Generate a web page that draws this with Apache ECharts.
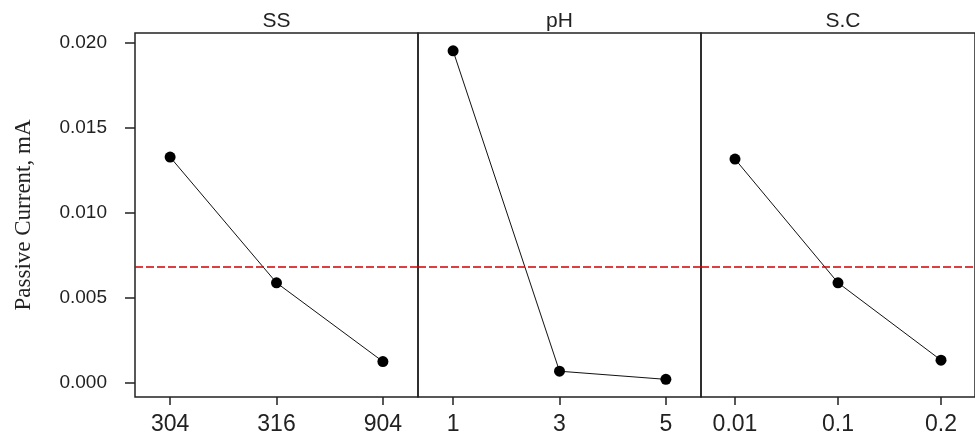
<!DOCTYPE html>
<html>
<head>
<meta charset="utf-8">
<script src="https://cdn.jsdelivr.net/npm/echarts@6/dist/echarts.min.js"></script>
<style>
  html, body { margin: 0; padding: 0; background: #fff; }
  #main { width: 975px; height: 443px; }
</style>
</head>
<body>
<div id="main"></div>
<script>
// main effects for passive current
const factors = ['SS', 'pH', 'S.C']
const levels = [
  ['304', '316', '904'],
  ['1', '3', '5'],
  ['0.01', '0.1', '0.2']
]
const ssMeans = [0.01329, 0.00588, 0.00124]
const phMeans = [0.01955, 0.00067, 0.00019]
const scMeans = [0.01317, 0.00588, 0.00132]
const grandMean = 0.0068
const yTicks = [0, 0.005, 0.010, 0.015, 0.020]

const panelMeans = [ssMeans, phMeans, scMeans]
const gridLefts = [135, 418, 701]
const gridWidths = [283, 283, 284]
const sans = 'Liberation Sans, Arial, sans-serif'

let myChart = echarts.init(document.getElementById('main'))

let grids = []
let xAxes = []
let yAxes = []
let series = []
let titles = []

factors.forEach((f, i) => {
  grids.push({
    left: gridLefts[i],
    width: gridWidths[i],
    top: 33,
    height: 364,
    show: true,
    borderColor: '#222',
    borderWidth: 1.5
  })
  xAxes.push({
    type: 'value',
    gridIndex: i,
    min: -0.33,
    max: 2.33,
    axisLine: { show: false, onZero: false },
    splitLine: { show: false },
    axisTick: {
      show: true,
      length: 8,
      customValues: [0, 1, 2],
      lineStyle: { color: '#222', width: 1.5 }
    },
    axisLabel: {
      customValues: [0, 1, 2],
      formatter: v => levels[i][Math.round(v)],
      fontSize: 23,
      fontFamily: sans,
      color: '#222',
      margin: 16
    }
  })
  yAxes.push({
    type: 'value',
    gridIndex: i,
    min: -0.00085,
    max: 0.0206,
    axisLine: { show: false, onZero: false },
    splitLine: { show: false },
    axisTick: {
      show: i === 0,
      length: 10,
      customValues: yTicks,
      lineStyle: { color: '#222', width: 1.5 }
    },
    axisLabel: {
      show: i === 0,
      customValues: yTicks,
      formatter: v => v.toFixed(3),
      fontSize: 19,
      fontFamily: sans,
      color: '#222',
      margin: 28
    },
    name: i === 0 ? 'Passive Current, mA' : '',
    nameLocation: 'middle',
    nameGap: 100,
    nameTextStyle: {
      fontFamily: 'Liberation Serif, Times New Roman, serif',
      fontSize: 23,
      color: '#222'
    }
  })
  series.push({
    name: f,
    type: 'line',
    xAxisIndex: i,
    yAxisIndex: i,
    data: panelMeans[i].map((v, k) => [k, v]),
    symbol: 'circle',
    symbolSize: 11,
    itemStyle: { color: '#000' },
    lineStyle: { color: '#111', width: 1 },
    markLine: {
      silent: true,
      symbol: 'none',
      precision: 6,
      label: { show: false },
      lineStyle: { color: '#d00000', type: [8, 3], width: 1.5 },
      data: [{ yAxis: grandMean }]
    }
  })
  titles.push({
    type: 'text',
    x: gridLefts[i] + gridWidths[i] / 2,
    y: 21,
    style: {
      text: f,
      align: 'center',
      verticalAlign: 'middle',
      fontSize: 21,
      fontFamily: sans,
      fill: '#222'
    }
  })
})

myChart.setOption({
  animation: false,
  backgroundColor: '#fff',
  grid: grids,
  xAxis: xAxes,
  yAxis: yAxes,
  series: series,
  graphic: titles
})
</script>
</body>
</html>
